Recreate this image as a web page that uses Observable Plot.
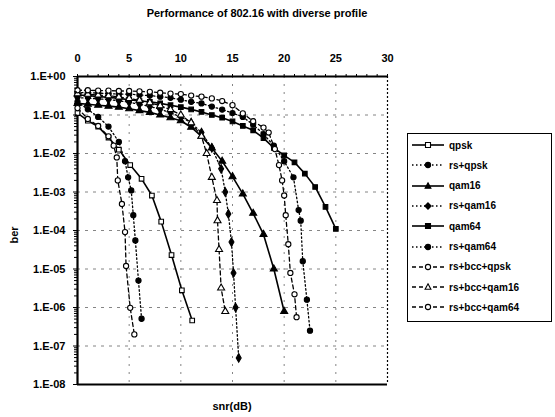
<!DOCTYPE html>
<html>
<head>
<meta charset="utf-8">
<script src="https://cdn.jsdelivr.net/npm/d3@7"></script>
<script src="https://cdn.jsdelivr.net/npm/@observablehq/plot@0.6"></script>
<style>
  html, body { margin: 0; padding: 0; background: #fff; }
  #wrap { position: relative; width: 555px; height: 417px; font-family: "Liberation Sans", Arial, sans-serif; font-weight: bold; color: #000; }
  #title { position: absolute; left: 0; width: 514px; top: 7px; text-align: center; font-size: 11px; }
  #chart { position: absolute; left: 0; top: 0; }
  #ylab { position: absolute; left: 5px; top: 229px; font-size: 11px; transform: rotate(-90deg); transform-origin: center; }
  #xlab { position: absolute; left: 200px; width: 64px; top: 400px; text-align: center; font-size: 11px; }
  #legend { position: absolute; left: 407px; top: 133px; width: 145px; height: 189px; border: 1.5px solid #000; box-sizing: border-box; background: #fff; }
  .row { position: absolute; left: 3px; height: 14px; display: flex; align-items: center; font-size: 10px; white-space: nowrap; }
  .row svg { margin-right: 4px; }
</style>
</head>
<body>
<div id="wrap">
  <div id="title">Performance of 802.16 with diverse profile</div>
  <div id="chart"></div>
  <div id="ylab">ber</div>
  <div id="xlab">snr(dB)</div>
  <div id="legend"></div>
</div>
<script>
// ---- axis ticks ----
const snrTicks = [0, 5, 10, 15, 20, 25, 30];
const berTicks = [1, 1e-1, 1e-2, 1e-3, 1e-4, 1e-5, 1e-6, 1e-7, 1e-8];
const berLabels = ["1.E+00", "1.E-01", "1.E-02", "1.E-03", "1.E-04", "1.E-05", "1.E-06", "1.E-07", "1.E-08"];

// ---- series names ----
const seriesNames = ["qpsk", "rs+qpsk", "qam16", "rs+qam16", "qam64", "rs+qam64", "rs+bcc+qpsk", "rs+bcc+qam16", "rs+bcc+qam64"];

// ---- series values (snr dB, ber) ----
const qpskSnr = [0, 1, 2, 3, 4, 5.1, 6.2, 7.2, 8.1, 9.1, 10.1, 11.1];
const qpskBer = [0.112, 0.071, 0.050, 0.026, 0.0126, 5.0e-3, 2.2e-3, 8.1e-4, 1.7e-4, 2.3e-5, 2.8e-6, 4.6e-7];

const rsQpskSnr = [0, 1, 2, 3, 4, 4.6, 4.9, 5.2, 5.4, 5.6, 5.9, 6.2];
const rsQpskBer = [0.22, 0.14, 0.089, 0.050, 0.020, 6.3e-3, 2.4e-3, 1.1e-3, 2.5e-4, 5.5e-5, 5.0e-6, 5.1e-7];

const qam16Snr = [0, 1, 2, 3, 4, 5, 6, 7, 8, 9, 10, 11, 12, 13, 14, 15, 16, 17, 18, 19, 20];
const qam16Ber = [0.20, 0.19, 0.18, 0.17, 0.16, 0.145, 0.13, 0.117, 0.10, 0.085, 0.071, 0.048, 0.028, 0.014, 6.3e-3, 2.5e-3, 8.9e-4, 2.8e-4, 7.9e-5, 1.0e-5, 7.9e-7];

const rsQam16Snr = [0, 1, 2, 3, 4, 5, 6, 7, 8, 9, 10, 11, 12, 13, 13.9, 14.3, 14.6, 14.9, 15.1, 15.3, 15.6];
const rsQam16Ber = [0.28, 0.275, 0.263, 0.251, 0.234, 0.214, 0.191, 0.166, 0.141, 0.115, 0.089, 0.063, 0.035, 0.014, 4.0e-3, 1.0e-3, 2.7e-4, 5.0e-5, 7.9e-6, 1.0e-6, 4.9e-8];

const qam64Snr = [0, 1, 2, 3, 4, 5, 6, 7, 8, 9, 10, 11, 12, 13, 14, 15, 16, 17, 18, 19, 20, 21, 22, 23, 24, 25];
const qam64Ber = [0.33, 0.32, 0.30, 0.29, 0.27, 0.25, 0.23, 0.22, 0.20, 0.18, 0.16, 0.14, 0.12, 0.10, 0.085, 0.068, 0.052, 0.040, 0.025, 0.014, 8.9e-3, 5.9e-3, 3.0e-3, 1.35e-3, 4.1e-4, 1.1e-4];

const rsQam64Snr = [0, 1, 2, 3, 4, 5, 6, 7, 8, 9, 10, 11, 12, 13, 14, 15, 16, 17, 18, 19, 20, 20.9, 21.4, 21.6, 21.8, 22.2, 22.5];
const rsQam64Ber = [0.38, 0.38, 0.37, 0.36, 0.35, 0.35, 0.33, 0.32, 0.30, 0.28, 0.25, 0.22, 0.20, 0.166, 0.138, 0.112, 0.089, 0.056, 0.032, 0.016, 6.3e-3, 2.4e-3, 3.4e-4, 1.8e-4, 1.6e-5, 1.6e-6, 2.5e-7];

const bccQpskSnr = [0, 1, 2, 3, 3.5, 3.8, 3.9, 4.3, 4.6, 4.7, 5.1, 5.5];
const bccQpskBer = [0.151, 0.079, 0.052, 0.028, 0.016, 7.9e-3, 2.0e-3, 4.9e-4, 9.1e-5, 1.2e-5, 9.8e-7, 2.0e-7];

const bccQam16Snr = [0, 1, 2, 3, 4, 5, 6, 7, 8, 9, 10, 11, 12, 12.5, 13, 13.5, 13.55, 13.7, 13.9, 14.3];
const bccQam16Ber = [0.355, 0.347, 0.331, 0.316, 0.295, 0.269, 0.240, 0.209, 0.174, 0.138, 0.10, 0.063, 0.028, 0.01, 2.4e-3, 6.0e-4, 1.8e-4, 3.2e-5, 3.2e-6, 7.9e-7];

const bccQam64Snr = [0, 1, 2, 3, 4, 5, 6, 7, 8, 9, 10, 11, 12, 13, 14, 15, 16, 17, 18, 18.5, 19.1, 19.5, 19.8, 20.0, 20.15, 20.4, 20.6, 21.0, 21.2];
const bccQam64Ber = [0.44, 0.44, 0.43, 0.43, 0.42, 0.42, 0.41, 0.40, 0.38, 0.36, 0.35, 0.32, 0.30, 0.27, 0.23, 0.18, 0.11, 0.069, 0.047, 0.035, 0.013, 5.0e-3, 2.0e-3, 8.1e-4, 2.5e-4, 4.4e-5, 7.9e-6, 2.2e-6, 5.6e-7];

// ---- styles (not data) ----
const styles = {
  "qpsk":         {dash: null,    sym: "square",   fill: "white", w: 1.6},
  "rs+qpsk":      {dash: "1.5,2.5", sym: "circle", fill: "black", w: 1.3},
  "qam16":        {dash: null,    sym: "triangle", fill: "black", w: 1.6},
  "rs+qam16":     {dash: "1.5,2.5", sym: "diamond", fill: "black", w: 1.3},
  "qam64":        {dash: null,    sym: "square",   fill: "black", w: 1.6},
  "rs+qam64":     {dash: "1.5,2.5", sym: "circle", fill: "black", w: 1.3},
  "rs+bcc+qpsk":  {dash: "4,3",   sym: "circle",   fill: "white", w: 1.3},
  "rs+bcc+qam16": {dash: "4,3",   sym: "triangle", fill: "white", w: 1.3},
  "rs+bcc+qam64": {dash: "4,3",   sym: "circle",   fill: "white", w: 1.3}
};

const seriesData = [
  [qpskSnr, qpskBer], [rsQpskSnr, rsQpskBer], [qam16Snr, qam16Ber], [rsQam16Snr, rsQam16Ber],
  [qam64Snr, qam64Ber], [rsQam64Snr, rsQam64Ber], [bccQpskSnr, bccQpskBer], [bccQam16Snr, bccQam16Ber], [bccQam64Snr, bccQam64Ber]
];

const rows = [];
seriesNames.forEach((name, i) => {
  const [xs, ys] = seriesData[i];
  xs.forEach((x, j) => rows.push({series: name, snr: x, ber: ys[j]}));
});

// minor log ticks
const minorBer = [];
for (let e = -8; e < 0; e++) for (let m = 2; m <= 9; m++) minorBer.push(m * Math.pow(10, e));
const minorSnr = d3.range(0, 31, 1);

const marks = [
  Plot.ruleY(berTicks.slice(1, -1), {stroke: "#666", strokeWidth: 0.8, strokeDasharray: "3,5"}),
  Plot.ruleX(snrTicks.slice(1, -1), {stroke: "#666", strokeWidth: 0.8, strokeDasharray: "2,6"}),
  Plot.ruleX([30], {stroke: "#000", strokeWidth: 1.2, strokeDasharray: "2,2"}),
  Plot.ruleY([1e-8], {stroke: "#000", strokeWidth: 1.8}),
  Plot.ruleY([1], {stroke: "#000", strokeWidth: 1.8}),
  Plot.ruleX([0], {stroke: "#000", strokeWidth: 2.2})
];

seriesNames.forEach(name => {
  const s = styles[name];
  const d = rows.filter(r => r.series === name);
  marks.push(Plot.line(d, {x: "snr", y: "ber", stroke: "black", strokeWidth: s.w, strokeDasharray: s.dash}));
});
seriesNames.forEach(name => {
  const s = styles[name];
  const d = rows.filter(r => r.series === name);
  marks.push(Plot.dot(d, {x: "snr", y: "ber", symbol: () => s.sym, r: 2.6, fill: s.fill, stroke: "black", strokeWidth: 1.1}));
});

marks.push(
  Plot.axisX({anchor: "top", ticks: snrTicks, tickSize: 0, tickPadding: 15, fontSize: 11, fontWeight: "bold", label: null}),
  Plot.axisX({anchor: "top", ticks: minorSnr, tickSize: 3, tickFormat: () => "", label: null}),
  Plot.axisY({anchor: "left", ticks: berTicks, tickSize: 4, tickPadding: 8, fontSize: 11, fontWeight: "bold", label: null,
    tickFormat: d => berLabels[berTicks.findIndex(t => Math.abs(Math.log10(t) - Math.log10(d)) < 1e-6)]}),
  Plot.axisY({anchor: "left", ticks: minorBer, tickSize: 3, tickFormat: () => "", label: null})
);

const chart = Plot.plot({
  width: 555,
  height: 417,
  marginLeft: 77,
  marginRight: 168,
  marginTop: 76,
  marginBottom: 33,
  style: {background: "transparent", fontFamily: "Liberation Sans, Arial, sans-serif", color: "#000"},
  x: {domain: [0, 30]},
  y: {type: "log", domain: [1e-8, 1]},
  marks
});
document.getElementById("chart").appendChild(chart);

// ---- legend ----
const legend = document.getElementById("legend");
const symPath = {
  square: "M-2.5,-2.5h5v5h-5z",
  circle: null,
  triangle: "M0,-3.2L2.9,2.2H-2.9Z",
  diamond: "M0,-3.2L3.2,0L0,3.2L-3.2,0Z"
};
seriesNames.forEach((name, i) => {
  const s = styles[name];
  const row = document.createElement("div");
  row.className = "row";
  row.style.top = (4 + i * 20.3) + "px";
  const marker = s.sym === "circle"
    ? `<circle cx="17" cy="7" r="2.6" fill="${s.fill}" stroke="black" stroke-width="1.1"/>`
    : `<path transform="translate(17,7)" d="${symPath[s.sym]}" fill="${s.fill}" stroke="black" stroke-width="1.1"/>`;
  row.innerHTML = `<svg width="34" height="14"><line x1="1" x2="33" y1="7" y2="7" stroke="black" stroke-width="${s.w}" ${s.dash ? `stroke-dasharray="${s.dash}"` : ""}/>${marker}</svg><span>${name}</span>`;
  legend.appendChild(row);
});
</script>
</body>
</html>
